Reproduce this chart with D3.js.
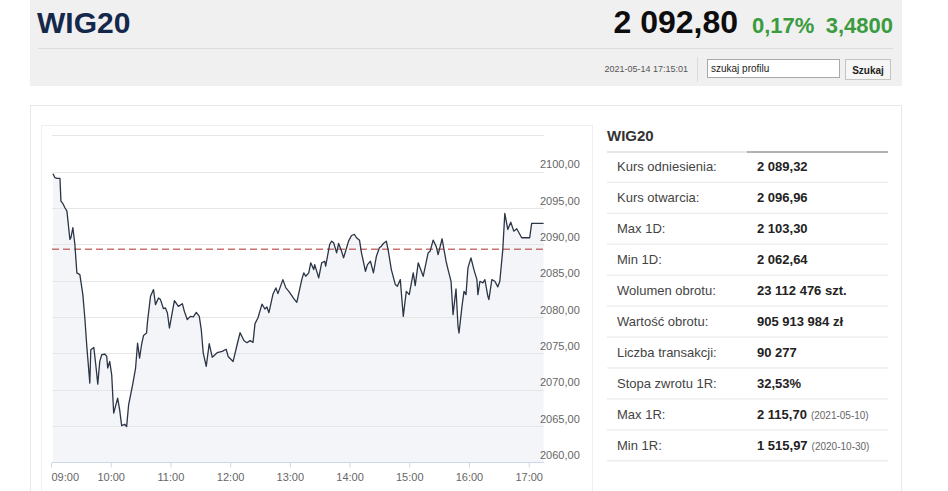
<!DOCTYPE html>
<html>
<head>
<meta charset="utf-8">
<script src="https://cdn.jsdelivr.net/npm/d3@7"></script>
<style>
  html, body { margin: 0; padding: 0; background: #ffffff; }
  svg { display: block; }
  text { font-family: "Liberation Sans", Arial, sans-serif; }
</style>
</head>
<body>
<svg id="chart" width="948" height="491"></svg>
<script>
// ---------- DATA ----------
const indexName = "WIG20";
const lastPrice = "2 092,80";
const changePct = "0,17%";
const changeAbs = "3,4800";
const timestamp = "2021-05-14 17:15:01";
const searchPlaceholder = "szukaj profilu";
const searchButton = "Szukaj";

const sessionStart = "09:00";
const sessionEnd = "17:15";
const referencePrice = 2089.32;

const times = [
  "09:02","09:04","09:06","09:09","09:10","09:12","09:14","09:16","09:19","09:20",
  "09:22","09:24","09:26","09:29","09:32","09:34","09:36","09:39","09:40","09:43",
  "09:45","09:47","09:49","09:51","09:54","09:56","09:57","09:59","10:01","10:03",
  "10:07","10:09","10:11","10:14","10:16","10:18","10:22","10:25","10:27","10:29",
  "10:31","10:33","10:36","10:37","10:40","10:43","10:45","10:48","10:50","10:53",
  "10:55","10:57","10:59","11:04","11:08","11:12","11:14","11:17","11:20","11:23",
  "11:26","11:29","11:31","11:33","11:36","11:39","11:42","11:47","11:52","11:56",
  "11:58","12:03","12:07","12:10","12:14","12:17","12:20","12:23","12:25","12:28",
  "12:32","12:35","12:37","12:39","12:43","12:46","12:48","12:53","12:56","12:59",
  "13:04","13:07","13:12","13:14","13:16","13:19","13:21","13:24","13:25","13:29",
  "13:32","13:35","13:36","13:40","13:42","13:44","13:47","13:49","13:52","13:54",
  "13:56","13:59","14:02","14:05","14:07","14:10","14:12","14:16","14:18","14:21",
  "14:24","14:27","14:30","14:32","14:34","14:37","14:39","14:42","14:46","14:48",
  "14:51","14:54","14:57","15:00","15:04","15:06","15:09","15:14","15:19","15:21",
  "15:24","15:27","15:29","15:33","15:37","15:39","15:42","15:44","15:47","15:49",
  "15:50","15:53","15:55","15:57","15:59","16:02","16:05","16:08","16:09","16:11",
  "16:14","16:16","16:19","16:20","16:23","16:26","16:29","16:31","16:34","16:36",
  "16:39","16:42","16:45","16:48","16:53","17:01","17:03","17:15"
];
const prices = [
  2099.72,2099.17,2099.08,2099.08,2095.94,2095.59,2095.03,2094.57,2090.66,2090.90,
  2092.28,2089.97,2086.07,2085.83,2083.08,2079.86,2075.94,2070.90,2075.49,2075.81,
  2073.42,2070.76,2073.88,2074.80,2074.90,2074.57,2072.97,2073.88,2072.04,2066.76,
  2068.83,2067.21,2065.05,2065.24,2064.91,2067.90,2070.66,2072.97,2076.41,2074.34,
  2076.18,2077.46,2077.79,2079.39,2082.84,2083.77,2081.70,2082.62,2082.39,2081.14,
  2081.24,2080.55,2078.48,2082.25,2081.46,2081.83,2080.77,2079.63,2080.08,2080.00,
  2080.63,2080.08,2078.25,2075.03,2073.19,2076.32,2074.46,2075.08,2075.26,2075.56,
  2074.57,2073.88,2076.18,2077.83,2076.73,2076.46,2076.77,2076.50,2079.08,2079.90,
  2081.77,2081.10,2081.38,2080.59,2083.12,2084.00,2083.21,2085.14,2084.00,2083.53,
  2082.52,2082.01,2085.14,2086.07,2085.60,2086.07,2087.45,2086.52,2087.21,2085.38,
  2087.45,2087.67,2086.98,2089.97,2090.43,2090.21,2088.83,2090.11,2089.05,2088.14,
  2089.05,2090.43,2091.21,2091.35,2090.90,2090.57,2088.83,2086.29,2087.21,2087.67,
  2086.07,2088.36,2089.52,2089.74,2090.11,2090.43,2089.05,2086.52,2084.46,2084.22,
  2085.14,2080.08,2083.53,2083.08,2086.07,2084.32,2087.45,2085.60,2088.83,2089.05,
  2090.57,2089.74,2088.59,2090.76,2087.67,2086.52,2084.91,2080.32,2083.86,2078.70,
  2077.79,2081.46,2083.53,2083.08,2086.76,2088.14,2086.52,2085.14,2083.08,2084.91,
  2084.69,2085.14,2082.84,2082.39,2085.14,2084.91,2084.14,2084.91,2089.28,2094.25,
  2092.04,2093.05,2091.81,2092.14,2090.90,2090.90,2092.87,2092.87
];

const yMin = 2060, yMax = 2105;
const yTickValues = [2060, 2065, 2070, 2075, 2080, 2085, 2090, 2095, 2100];
const yGridValues = [2060, 2065, 2070, 2075, 2080, 2085, 2090, 2095, 2100, 2105];
const xTickLabels = ["09:00","10:00","11:00","12:00","13:00","14:00","15:00","16:00","17:00"];

const tableTitle = "WIG20";
const statLabels = ["Kurs odniesienia:","Kurs otwarcia:","Max 1D:","Min 1D:","Wolumen obrotu:",
  "Wartość obrotu:","Liczba transakcji:","Stopa zwrotu 1R:","Max 1R:","Min 1R:"];
const statValues = ["2 089,32","2 096,96","2 103,30","2 062,64","23 112 476 szt.",
  "905 913 984 zł","90 277","32,53%","2 115,70","1 515,97"];
const statNotes = ["","","","","","","","","(2021-05-10)","(2020-10-30)"];

// ---------- DRAW ----------
const svg = d3.select("#chart");
const parseT = d3.timeParse("%H:%M");
const pl = d3.formatLocale({decimal: ",", thousands: " ", grouping: [3], currency: ["", " zł"]});
const fmtY = pl.format(".2f");

// header
svg.append("rect").attr("x", 30).attr("y", 0).attr("width", 872).attr("height", 86).attr("fill", "#f0f0f0");
svg.append("text").attr("x", 37).attr("y", 33).attr("font-size", 30).attr("font-weight", 600).attr("fill", "#14284b")
  .attr("font-family", "'Open Sans', 'Liberation Sans', sans-serif").text(indexName);
svg.append("text").attr("x", 738).attr("y", 33).attr("text-anchor", "end").attr("font-size", 32)
  .attr("font-weight", "bold").attr("fill", "#0d0d0d").text(lastPrice);
svg.append("text").attr("x", 752).attr("y", 33).attr("font-size", 22).attr("font-weight", "bold")
  .attr("fill", "#3a9b3f").text(changePct);
svg.append("text").attr("x", 893).attr("y", 33).attr("text-anchor", "end").attr("font-size", 22).attr("font-weight", "bold")
  .attr("fill", "#3a9b3f").text(changeAbs);
svg.append("line").attr("x1", 38).attr("x2", 893).attr("y1", 48.5).attr("y2", 48.5).attr("stroke", "#dcdcdc");
svg.append("text").attr("x", 688).attr("y", 72).attr("text-anchor", "end").attr("font-size", 9).attr("fill", "#555").text(timestamp);
svg.append("line").attr("x1", 697.5).attr("x2", 697.5).attr("y1", 57).attr("y2", 82).attr("stroke", "#dcdcdc");
svg.append("rect").attr("x", 707.5).attr("y", 59.5).attr("width", 132).attr("height", 18).attr("fill", "#fff").attr("stroke", "#a9a9a9");
svg.append("text").attr("x", 711).attr("y", 72).attr("font-size", 10).attr("fill", "#222").text(searchPlaceholder);
svg.append("rect").attr("x", 845.5).attr("y", 59.5).attr("width", 45).attr("height", 20).attr("fill", "#f6f6f6").attr("stroke", "#c4c4c4");
svg.append("text").attr("x", 868).attr("y", 73.5).attr("text-anchor", "middle").attr("font-size", 10).attr("font-weight", "bold").attr("fill", "#222").text(searchButton);

// panels
svg.append("rect").attr("x", 30.5).attr("y", 105.5).attr("width", 871).attr("height", 420).attr("fill", "#fff").attr("stroke", "#e8e8e8");
svg.append("rect").attr("x", 41.5).attr("y", 125.5).attr("width", 551).attr("height", 400).attr("fill", "#fff").attr("stroke", "#efefef");

// chart
const x = d3.scaleTime().domain([parseT(sessionStart), parseT(sessionEnd)]).range([51, 543.6]);
const y = d3.scaleLinear().domain([yMin, yMax]).range([462.3, 135.3]);
const data = times.map((t, i) => ({t: parseT(t), v: prices[i]}));

const area = d3.area().x(d => x(d.t)).y0(y(yMin)).y1(d => y(d.v));
svg.append("path").datum(data).attr("d", area).attr("fill", "#f4f5f8");

svg.append("g").selectAll("line").data(yGridValues).join("line")
  .attr("x1", 52).attr("x2", 544).attr("y1", d => Math.round(y(d)) + 0.5).attr("y2", d => Math.round(y(d)) + 0.5)
  .attr("stroke", "#e6e6e6");

// x axis
const xAxis = d3.axisBottom(x)
  .tickValues(xTickLabels.map(parseT))
  .tickFormat(d3.timeFormat("%H:%M"))
  .tickSize(5).tickPadding(6);
const gx = svg.append("g").attr("transform", `translate(0,${Math.round(y(yMin)) + 0.5})`).call(xAxis);
gx.select(".domain").attr("stroke", "#ccd6eb").attr("d", "M52,0H544");
gx.selectAll(".tick line").attr("stroke", "#ccd6eb");
gx.selectAll(".tick text").attr("font-size", 11).attr("fill", "#666").attr("font-family", "'Liberation Sans', Arial, sans-serif");
gx.selectAll(".tick text").filter((d, i) => i === 0).attr("text-anchor", "start");

// y axis labels (right, above gridlines)
const yAxis = d3.axisRight(y).tickValues(yTickValues).tickFormat(fmtY).tickSize(0).tickPadding(0);
const gy = svg.append("g").attr("transform", "translate(540,0)").call(yAxis);
gy.select(".domain").remove();
gy.selectAll(".tick text").attr("font-size", 11).attr("fill", "#666").attr("dy", "-0.35em")
  .attr("font-family", "'Liberation Sans', Arial, sans-serif");

// reference line
svg.append("line").attr("x1", 52).attr("x2", 544).attr("y1", y(referencePrice)).attr("y2", y(referencePrice))
  .attr("stroke", "#c87370").attr("stroke-width", 1.4).attr("stroke-dasharray", "7,4");

// price line
const line = d3.line().x(d => x(d.t)).y(d => y(d.v));
svg.append("path").datum(data).attr("d", line).attr("fill", "none").attr("stroke", "#2b3546").attr("stroke-width", 1.3)
  .attr("stroke-linejoin", "round");

// table
svg.append("text").attr("x", 607).attr("y", 141).attr("font-size", 15).attr("font-weight", "bold").attr("fill", "#333").text(tableTitle);
svg.append("line").attr("x1", 607).attr("x2", 747).attr("y1", 152).attr("y2", 152).attr("stroke", "#cfcfcf");
svg.append("line").attr("x1", 747).attr("x2", 888).attr("y1", 152).attr("y2", 152).attr("stroke", "#666");

const rowPitch = 30.95;
const rows = svg.append("g").selectAll("g").data(statLabels).join("g")
  .attr("transform", (d, i) => `translate(0,${166.7 + i * rowPitch})`);
rows.append("text").attr("x", 617).attr("y", 4.5).attr("font-size", 13).attr("fill", "#444").text(d => d);
rows.append("text").attr("class", "val").attr("x", 757).attr("y", 4.5).attr("font-size", 13).attr("font-weight", "bold").attr("fill", "#222")
  .text((d, i) => statValues[i]);
rows.each(function(d, i) {
  if (!statNotes[i]) return;
  const g = d3.select(this);
  const w = g.select(".val").node().getComputedTextLength();
  g.append("text").attr("x", 757 + w + 4).attr("y", 4.5).attr("font-size", 10).attr("fill", "#666").text(statNotes[i]);
});
rows.append("line").attr("x1", 607).attr("x2", 888).attr("y1", 15.6).attr("y2", 15.6).attr("stroke", "#e6e6e6");
</script>
</body>
</html>
